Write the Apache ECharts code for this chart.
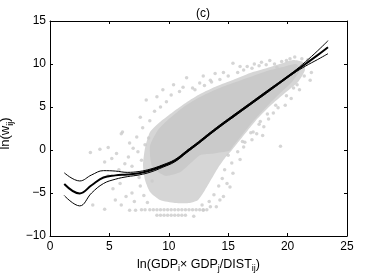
<!DOCTYPE html>
<html><head><meta charset="utf-8">
<script src="https://cdn.jsdelivr.net/npm/echarts@6/dist/echarts.min.js"></script>
<style>html,body{margin:0;padding:0;background:#fff}#c{width:382px;height:273px}</style>
</head><body><div id="c"></div>
<script>
// Axis ticks
const xTicks = [0, 5, 10, 15, 20, 25];
const yTicks = [-10, -5, 0, 5, 10, 15];

// Fitted curve (thick) and confidence band (thin)
const curveX = [1.2, 2.5, 3.5, 4.5, 5.5, 6.5, 7.5, 8.5, 9.5, 10.5, 11.5, 12.5, 13.5, 14.5, 15.5, 16.5, 17.5, 18.5, 19.5, 20.5, 21.5, 22.5, 23.4];
const curveMid = [-3.95, -5.05, -4.1, -3.2, -2.95, -2.85, -2.7, -2.35, -1.85, -1.25, -0.2, 0.85, 1.95, 3.0, 4.0, 5.0, 6.0, 7.0, 8.0, 9.0, 10.0, 11.0, 11.95];
const curveUp  = [-2.65, -3.6, -2.9, -2.4, -2.45, -2.6, -2.5, -2.2, -1.72, -1.12, -0.08, 0.97, 2.07, 3.12, 4.12, 5.12, 6.12, 7.12, 8.1, 9.1, 10.25, 11.5, 12.7];
const curveLo  = [-5.3, -6.5, -5.0, -3.9, -3.4, -3.1, -2.9, -2.55, -2.0, -1.38, -0.32, 0.73, 1.83, 2.88, 3.88, 4.88, 5.88, 6.88, 7.9, 8.9, 9.75, 10.5, 11.2];

// Dense part of the point cloud (outline of medium and solid density)
const cloudOuter = [[7.83,-1.74],[8.0,0.23],[8.42,2.09],[9.26,3.26],[10.35,4.42],[11.53,5.58],[12.63,6.51],[14.06,7.44],[15.40,8.14],[16.84,8.95],[18.27,9.53],[19.61,10.12],[20.45,10.47],[21.30,10.23],[21.46,9.30],[20.88,7.91],[19.78,6.63],[18.52,5.12],[17.51,3.72],[16.67,2.33],[15.99,1.16],[15.32,0.0],[14.73,-0.93],[14.14,-2.09],[13.64,-3.26],[13.05,-4.65],[12.46,-5.81],[11.78,-6.16],[10.52,-6.16],[9.26,-5.81],[8.42,-4.88],[8.0,-3.49]];
const cloudInner = [[8.42,0.47],[9.09,2.33],[10.10,3.72],[11.36,5.12],[12.63,6.16],[14.06,7.09],[15.40,7.79],[16.84,8.49],[18.27,9.19],[19.61,9.65],[20.71,10.0],[21.04,9.30],[20.37,7.91],[19.36,6.6],[18.27,5.1],[17.26,3.6],[16.25,1.9],[15.50,0.6],[15.1,-0.1],[13.8,-0.4],[12.63,-0.6],[11.78,-1.6],[10.94,-2.6],[9.68,-3.0],[8.59,-1.9]];

// Sparse points around the cloud
const scatterPts = [
 [3.4,-0.3],[4.2,0.1],[4.9,0.3],[5.6,-0.4],[6.0,1.9],[5.2,-1.0],[4.6,-1.4],[6.3,-1.6],[6.7,0.8],[7.0,0.2],[6.1,2.1],[7.6,3.8],[8.1,5.8],[9.0,6.2],[9.5,7.0],[10.4,7.6],[11.5,8.4],[12.6,7.8],[13.5,8.1],[7.3,1.5],[7.8,2.6],[8.4,3.4],[8.8,4.5],[9.3,5.0],[9.8,5.6],[10.2,6.4],[10.9,6.8],[11.2,7.3],[12.0,7.2],[12.9,8.6],[13.9,8.9],[14.6,9.0],[15.4,10.1],[16.0,9.7],[16.6,9.7],[17.2,10.0],[17.8,10.2],[18.5,10.4],[19.1,9.6],[19.9,10.4],[20.6,10.8],[21.2,10.6],[21.7,10.5],[6.6,-0.8],[7.4,-0.2],[8.0,0.6],[8.3,1.4],[5.8,-2.3],[6.9,-1.9],[7.7,-1.2],
 [3.6,-6.4],[4.6,-6.9],[5.3,-4.5],[5.9,-3.9],[6.0,-6.4],[6.4,-5.4],[6.9,-5.0],[7.1,-6.0],[6.7,-7.0],[7.2,-7.0],[7.6,-4.2],[7.9,-5.3],[8.2,-6.1],[7.5,-3.2],[8.6,-3.6],[4.9,-3.0],[5.5,-5.8],
 [7.7,-6.95],[8.0,-6.95],[8.4,-6.95],[8.7,-6.95],[9.0,-6.95],[9.3,-6.95],[9.6,-6.95],[9.9,-6.95],[10.2,-6.95],[10.5,-6.95],[10.8,-6.95],[11.1,-6.95],[11.4,-6.95],[11.7,-6.95],[12.0,-6.95],[12.3,-6.95],[12.6,-6.95],[12.9,-6.95],[13.2,-6.95],
 [9.0,-7.6],[9.3,-7.6],[9.6,-7.6],[9.9,-7.6],[10.2,-7.6],[10.5,-7.6],[10.8,-7.6],[11.1,-7.6],[11.4,-7.6],
 [21.9,8.1],[21.0,7.0],[19.4,0.45],[18.8,4.3],[17.9,1.7],[17.0,1.2],[16.3,0.35],[15.0,-0.6],[14.7,-2.3],[14.9,-3.9],[14.3,-5.8],[13.5,-6.6],[12.9,-7.0],[12.1,-7.7],[18.0,2.7],[17.4,1.9],[16.0,-1.1],[15.4,-2.7],[15.15,-4.3],[14.6,-5.4],[14.0,-6.6],
 [20.3,6.0],[19.8,5.2],[19.2,4.9],[18.4,3.6],[17.7,3.3],[17.1,2.1],[16.4,0.9],[15.8,-0.2],[15.3,-1.5],[14.5,-3.3],[14.2,-4.2],[13.8,-5.2],[13.4,-6.0],[12.8,-6.4],[20.8,7.6],[21.4,8.6],[22.0,9.0],
 [12.2,7.0],[13.0,7.5],[13.6,7.9],[14.3,8.2],[15.0,8.6],[15.8,9.0],[16.3,9.3],[17.0,9.5],[17.6,9.8],[18.2,9.9],[18.9,10.0],[19.5,10.3],[20.2,10.6],
 [20.5,7.2],[19.9,6.3],[19.0,5.2],[18.3,4.2],[17.6,3.0],[16.9,2.0],[16.2,1.0]
];

const FONT = 'Liberation Sans, Arial, Helvetica, sans-serif';
const minus = v => String(v).replace('-', '\u2212');

function polySeries(pts, color, z) {
  return {
    type: 'custom', z: z, silent: true, data: pts,
    renderItem: function (params, api) {
      if (params.dataIndex !== 0) return null;
      return { type: 'polygon', shape: { points: pts.map(p => api.coord(p)), smooth: 0.2 }, style: { fill: color } };
    }
  };
}

const chart = echarts.init(document.getElementById('c'), null, { renderer: 'canvas' });
const axisCommon = {
  type: 'value', splitLine: { show: false },
  axisLine: { show: true, onZero: false, lineStyle: { color: '#000', width: 1 } },
  axisTick: { show: true, inside: true, length: 3, lineStyle: { color: '#000' } }
};
const subStyle = { fontFamily: FONT, fontSize: 9, color: '#000', padding: [9, 0, 0, 0] };
chart.setOption({
  animation: false,
  backgroundColor: '#fff',
  title: { text: '(c)', left: 198, top: 3, textAlign: 'center', textStyle: { fontFamily: FONT, fontSize: 12, fontWeight: 'normal', color: '#000' } },
  grid: { left: 50, right: 35, top: 21, bottom: 37, containLabel: false, outerBoundsMode: 'none' },
  xAxis: [
    Object.assign({}, axisCommon, {
      min: xTicks[0], max: xTicks[xTicks.length - 1], interval: 5, position: 'bottom',
      axisLabel: { fontFamily: FONT, fontSize: 12, color: '#000', margin: 5, formatter: minus },
      name: 'ln(GDP{s|i}\u00d7 GDP{s|j}/DIST{s|ij})', nameLocation: 'middle', nameGap: 16,
      nameTextStyle: { fontFamily: FONT, fontSize: 12.5, color: '#000', rich: { s: subStyle } }
    }),
    Object.assign({}, axisCommon, { min: xTicks[0], max: xTicks[xTicks.length - 1], interval: 5, position: 'top', axisLabel: { show: false } })
  ],
  yAxis: [
    Object.assign({}, axisCommon, {
      min: yTicks[0], max: yTicks[yTicks.length - 1], interval: 5, position: 'left',
      axisLabel: { fontFamily: FONT, fontSize: 12, color: '#000', margin: 4, formatter: minus },
      name: 'ln(w{s|ij})', nameLocation: 'middle', nameGap: 33, nameRotate: 90,
      nameTextStyle: { fontFamily: FONT, fontSize: 13, color: '#000', padding: [0, 10, 0, 0], rich: { s: subStyle } }
    }),
    Object.assign({}, axisCommon, { min: yTicks[0], max: yTicks[yTicks.length - 1], interval: 5, position: 'right', axisLabel: { show: false } })
  ],
  series: [
    polySeries(cloudOuter, '#d6d6d6', 1),
    polySeries(cloudInner, '#cacaca', 2),
    { type: 'scatter', z: 3, data: scatterPts, symbol: 'circle', symbolSize: 3.5, itemStyle: { color: '#cacaca' }, silent: true },
    { type: 'line', z: 5, data: curveX.map((x, i) => [x, curveUp[i]]), smooth: 0.4, showSymbol: false, lineStyle: { color: '#000', width: 1 } },
    { type: 'line', z: 5, data: curveX.map((x, i) => [x, curveLo[i]]), smooth: 0.4, showSymbol: false, lineStyle: { color: '#000', width: 1 } },
    { type: 'line', z: 6, data: curveX.map((x, i) => [x, curveMid[i]]), smooth: 0.4, showSymbol: false, lineStyle: { color: '#000', width: 2 } }
  ]
});
</script></body></html>
